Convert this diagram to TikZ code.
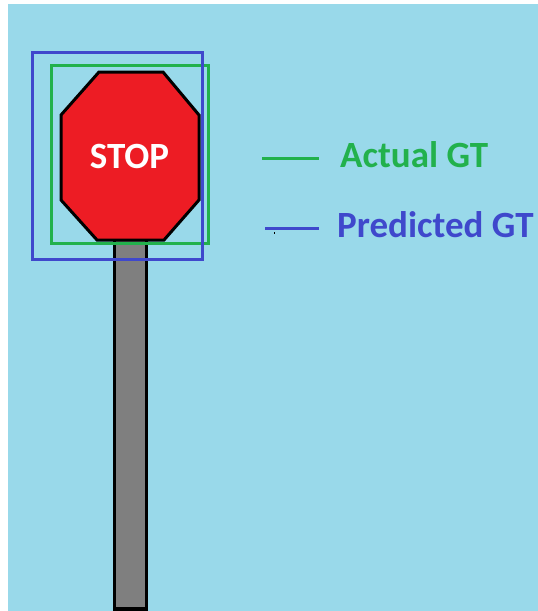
\documentclass[tikz,border=0pt]{standalone}
\usepackage{fontspec}
\setmainfont{Carlito}
\definecolor{sky}{HTML}{99D9EA}
\definecolor{signred}{HTML}{ED1C24}
\definecolor{gtgreen}{HTML}{22B14C}
\definecolor{gtblue}{HTML}{3F48CC}
\definecolor{polegrey}{HTML}{7F7F7F}
\tikzset{
  x=1pt, y=-1pt,
  bbox/.style={line width=3pt},
  legendline/.style={line width=3pt},
  bigbold/.style={font=\fontsize{37}{40}\selectfont\bfseries},
  legendtext/.style={bigbold, anchor=base west, inner sep=0pt},
}
\begin{document}
\begin{tikzpicture}
  \useasboundingbox (0,0) rectangle (538,611);
  \fill[white] (0,0) rectangle (538,611);
  \fill[sky] (8,4) rectangle (538,611);

  % pole
  \draw[fill=polegrey, line width=3.5pt] (114.5,238) rectangle (146.5,609);

  % octagonal sign
  \draw[fill=signred, line width=3pt, line join=miter]
    (99,72) -- (163,72) -- (199,115) -- (199,200) -- (164,240)
    -- (97,240) -- (61,200) -- (61,115) -- cycle;
  \node[text=white, bigbold, anchor=base, inner sep=0pt] (stop) at (129.5,168) {STOP};

  % bounding boxes
  \draw[bbox, gtgreen] (51,65) rectangle (208.5,243.5);
  \draw[bbox, gtblue] (32,52) rectangle (202.5,259);

  % legend
  \coordinate (ga) at (262,158);
  \coordinate (gb) at (319,158);
  \coordinate (ba) at (265,228);
  \coordinate (bb) at (319,228);
  \draw[legendline, gtgreen] (ga) -- (gb);
  \draw[legendline, gtblue] (ba) -- (bb);
  \fill[black] (273.5,232) rectangle (275,233.5);
  \node[legendtext, text=gtgreen] (actual) at (340,167) {Actual GT};
  \node[legendtext, text=gtblue] (pred) at (337,237) {Predicted GT};
\end{tikzpicture}
\end{document}
